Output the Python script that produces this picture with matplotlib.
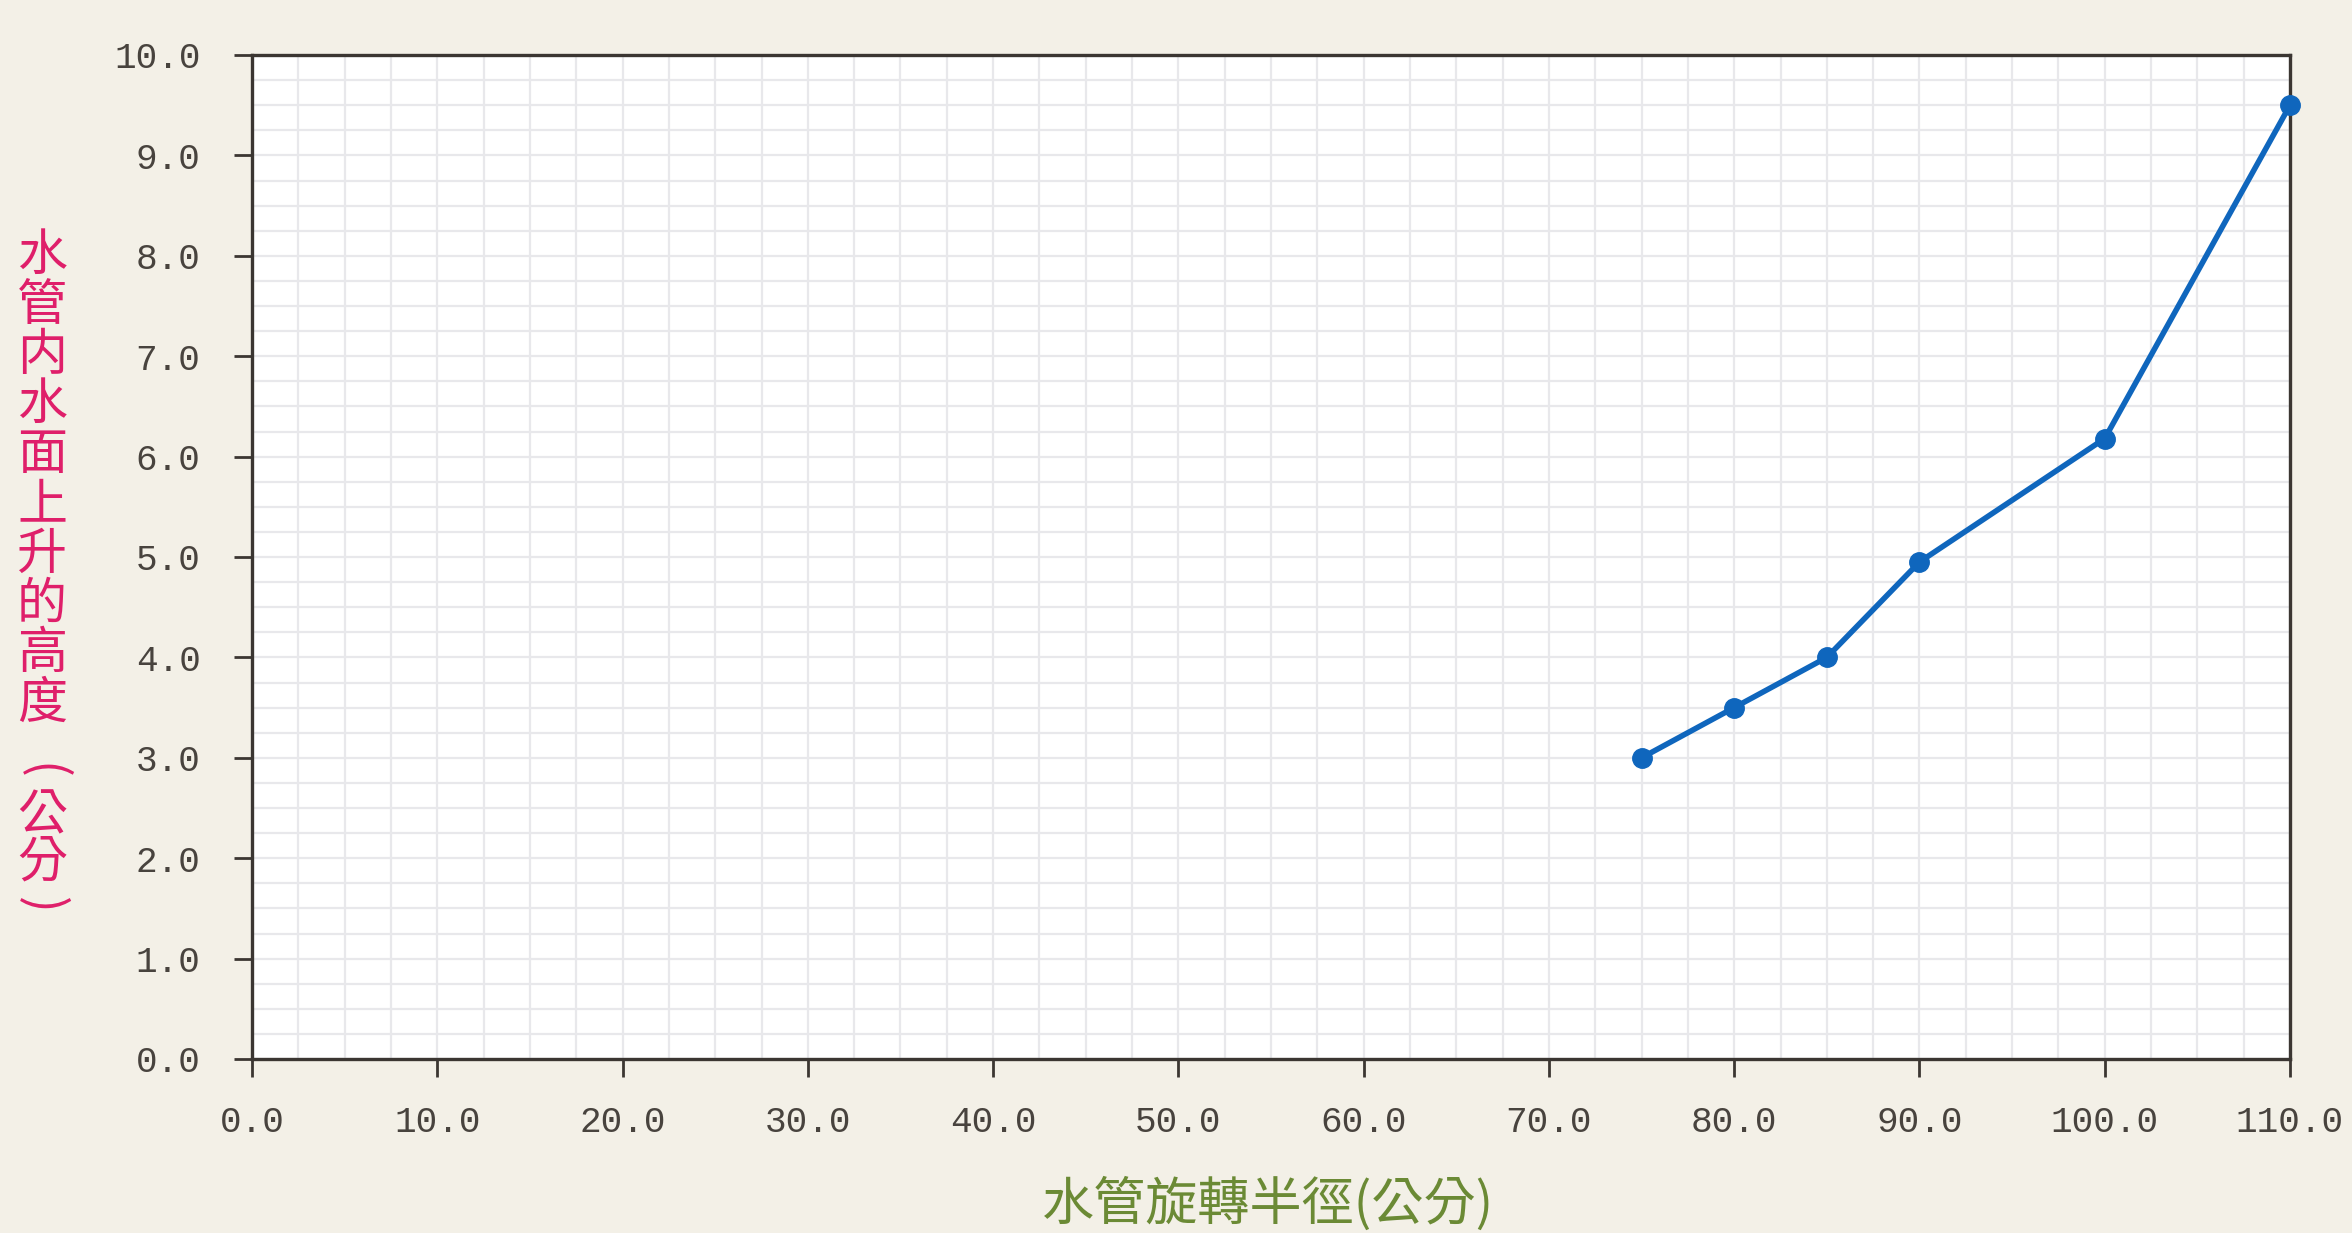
import matplotlib
matplotlib.use("Agg")
import matplotlib.pyplot as plt
from matplotlib.ticker import MultipleLocator, FormatStrFormatter

# data
radius_cm = [75, 80, 85, 90, 100, 110]
rise_cm = [3.0, 3.5, 4.0, 4.95, 6.18, 9.5]

x_label = "水管旋轉半徑(公分)"
y_label_main = "水管内水面上升的高度"
y_label_unit = "公分"

W, H = 2352, 1233
bg = "#f3f0e7"
spine_col = "#3b3632"
tick_col = "#48433e"
grid_col = "#e8e8eb"
line_col = "#0f66bd"
cjk = ["Noto Sans CJK TC", "DejaVu Sans"]

fig = plt.figure(figsize=(W / 100, H / 100), dpi=100, facecolor=bg)
ax = fig.add_axes([252 / W, 1 - 1059 / H, (2290 - 252) / W, (1059 - 55) / H])
ax.set_facecolor("white")

ax.set_xlim(0, 110)
ax.set_ylim(0, 10)
ax.xaxis.set_major_locator(MultipleLocator(10))
ax.xaxis.set_minor_locator(MultipleLocator(2.5))
ax.yaxis.set_major_locator(MultipleLocator(1))
ax.yaxis.set_minor_locator(MultipleLocator(0.25))
ax.xaxis.set_major_formatter(FormatStrFormatter("%.1f"))
ax.yaxis.set_major_formatter(FormatStrFormatter("%.1f"))

ax.grid(True, which="both", color=grid_col, linewidth=1.6, zorder=0)
ax.set_axisbelow(True)

for s in ax.spines.values():
    s.set_color(spine_col)
    s.set_linewidth(2.4)

ax.tick_params(which="major", direction="out", length=13, width=2,
               color=spine_col, labelcolor=tick_col, labelsize=26)
ax.tick_params(axis="x", which="major", pad=20)
ax.tick_params(axis="y", which="major", pad=24)
ax.tick_params(which="minor", length=0)
for lab in ax.get_xticklabels() + ax.get_yticklabels():
    lab.set_family("Liberation Mono")

ax.plot(radius_cm, rise_cm, color=line_col, linewidth=4, marker="o",
        markersize=14, zorder=3, clip_on=False)

fig.text(0.539, 0.023, x_label, color="#6b8a35", fontsize=37.5,
         family=cjk, ha="center", va="center")

# vertical y label: stacked characters, parentheses turned sideways
ylab_kw = dict(color="#df1f6a", fontsize=36, family=cjk, ha="center", va="center")
col_x = 42 / W
fig.text(col_x, 1 - 480 / H, "\n".join(y_label_main), linespacing=0.944, **ylab_kw)
fig.text(col_x, 1 - 771 / H, "(", rotation=-90, **ylab_kw)
fig.text(col_x, 1 - 839 / H, "\n".join(y_label_unit), linespacing=0.852, **ylab_kw)
fig.text(col_x, 1 - 905 / H, ")", rotation=-90, **ylab_kw)

fig.savefig("out.png", dpi=100, facecolor=bg)
